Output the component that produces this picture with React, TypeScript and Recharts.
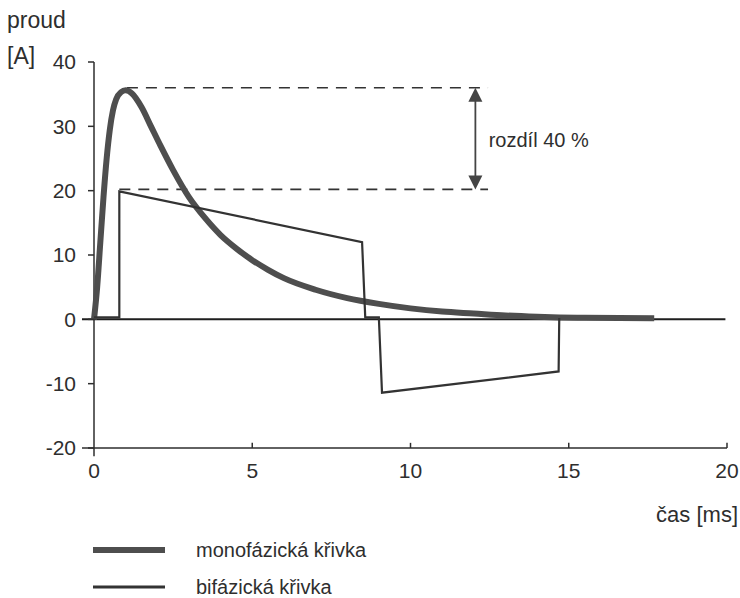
import React from 'react';
import { LineChart, Line, XAxis, YAxis, ReferenceLine, ReferenceDot } from 'recharts';

// time [ms] / current [A]
const monoTime = [0, 0.1, 0.2, 0.3, 0.4, 0.5, 0.6, 0.7, 0.85, 1.0, 1.2, 1.5, 1.8, 2.1, 2.5, 3.0, 3.5, 4.0, 4.5, 5.0, 5.5, 6.0, 7.0, 8.0, 9.0, 10.0, 11.0, 12.0, 13.0, 14.0, 14.7, 15.5, 17.7];
const monoCurrent = [0, 5, 12, 19, 25, 29.5, 32.5, 34.2, 35.3, 35.6, 35.1, 33, 30, 27, 23.2, 19, 15.8, 13.1, 11, 9.2, 7.7, 6.4, 4.6, 3.3, 2.4, 1.7, 1.2, 0.9, 0.6, 0.4, 0.3, 0.25, 0.15];

const biTime = [0, 0.8, 0.8, 8.47, 8.57, 9.0, 9.1, 14.68, 14.7];
const biCurrent = [0.3, 0.3, 19.9, 12, 0.3, 0.3, -11.4, -8.1, 0.2];

const xTicks = [0, 5, 10, 15, 20];
const yTicks = [-20, -10, 0, 10, 20, 30, 40];

const peakLevel = 36;
const biLevel = 20.2;
const arrowTime = 12.05;
const dashStart = [1.04, 0.8];
const dashEnd = 12.45;

const seriesNames = ['monofázická křivka', 'bifázická křivka'];

const monoData = monoTime.map((t, i) => ({ t, v: monoCurrent[i] }));
const biData = biTime.map((t, i) => ({ t, v: biCurrent[i] }));

const FONT = '"Liberation Sans", Arial, sans-serif';
const INK = '#2e2e2e';

const ArrowHead = ({ cx, cy, up }: any) => {
  if (cx == null || cy == null) return null;
  const h = 14;
  const w = 7;
  const pts = up
    ? `${cx},${cy} ${cx - w},${cy + h} ${cx + w},${cy + h}`
    : `${cx},${cy} ${cx - w},${cy - h} ${cx + w},${cy - h}`;
  return <polygon points={pts} fill="#444" />;
};

export default function App() {
  return (
    <div style={{ position: 'absolute', left: 0, top: 0, width: 740, height: 598, background: '#fff', fontFamily: FONT, color: INK }}>
      <div style={{ position: 'absolute', left: 7, top: 6, fontSize: 23, lineHeight: '28px' }}>proud</div>
      <div style={{ position: 'absolute', left: 7, top: 42, fontSize: 23, lineHeight: '28px' }}>[A]</div>
      <div style={{ position: 'absolute', right: 2, top: 501, fontSize: 22, lineHeight: '28px' }}>čas [ms]</div>

      <LineChart width={740} height={598} margin={{ top: 62, right: 13, bottom: 120, left: 0 }}>
        <XAxis
          dataKey="t"
          type="number"
          domain={[0, 20]}
          ticks={xTicks}
          axisLine={false}
          tickLine={false}
          tickSize={0}
          tickMargin={15}
          height={30}
          tick={{ fill: INK, fontSize: 21, fontFamily: FONT }}
        />
        <YAxis
          type="number"
          domain={[-20, 40]}
          ticks={yTicks}
          width={94}
          axisLine={false}
          tickLine={{ stroke: INK, strokeWidth: 1.5 }}
          tickSize={6}
          tickMargin={12}
          tick={{ fill: INK, fontSize: 21, fontFamily: FONT }}
        />

        {/* axes drawn as segments so they can overhang like the original */}
        <ReferenceLine segment={[{ x: 0, y: -21.3 }, { x: 0, y: 40 }]} stroke={INK} strokeWidth={1.5} ifOverflow="visible" />
        <ReferenceLine segment={[{ x: -0.38, y: -20 }, { x: 20, y: -20 }]} stroke={INK} strokeWidth={1.5} ifOverflow="visible" />
        <ReferenceLine segment={[{ x: -0.38, y: 0 }, { x: 19.95, y: 0 }]} stroke="#1e1e1e" strokeWidth={2} ifOverflow="visible" />
        {xTicks.slice(1).map((x) => (
          <ReferenceLine key={x} segment={[{ x, y: -20 }, { x, y: -19.2 }]} stroke={INK} strokeWidth={1.5} ifOverflow="visible" />
        ))}

        {/* peak difference markers */}
        <ReferenceLine segment={[{ x: dashStart[0], y: peakLevel }, { x: dashEnd, y: peakLevel }]} stroke="#333" strokeWidth={1.6} strokeDasharray="11 8" />
        <ReferenceLine segment={[{ x: dashStart[1], y: biLevel }, { x: dashEnd, y: biLevel }]} stroke="#333" strokeWidth={1.6} strokeDasharray="11 8" />
        <ReferenceLine segment={[{ x: arrowTime, y: peakLevel - 1 }, { x: arrowTime, y: biLevel + 1 }]} stroke="#444" strokeWidth={1.8} />
        <ReferenceDot x={arrowTime} y={peakLevel} shape={(p: any) => <ArrowHead {...p} up />} />
        <ReferenceDot x={arrowTime} y={biLevel} shape={(p: any) => <ArrowHead {...p} />} />
        <ReferenceDot
          x={12.47}
          y={27.8}
          shape={(p: any) => (
            <text x={p.cx} y={p.cy} dy="0.35em" fontSize={20} fontFamily={FONT} fill={INK}>
              rozdíl 40 %
            </text>
          )}
        />

        <Line data={monoData} dataKey="v" name={seriesNames[0]} type="monotone" stroke="#4e4e4e" strokeWidth={6} dot={false} isAnimationActive={false} strokeLinejoin="round" />
        <Line data={biData} dataKey="v" name={seriesNames[1]} type="linear" stroke="#333" strokeWidth={2.2} dot={false} isAnimationActive={false} />
      </LineChart>

      {/* legend */}
      {seriesNames.map((name, i) => (
        <div key={name} style={{ position: 'absolute', left: 93, top: 536 + i * 37, height: 28, display: 'flex', alignItems: 'center' }}>
          <svg width={72} height={10}>
            <line x1={0} y1={5} x2={72} y2={5} stroke={i === 0 ? '#4e4e4e' : '#333'} strokeWidth={i === 0 ? 6 : 3} />
          </svg>
          <span style={{ marginLeft: 31, fontSize: 20 }}>{name}</span>
        </div>
      ))}
    </div>
  );
}
